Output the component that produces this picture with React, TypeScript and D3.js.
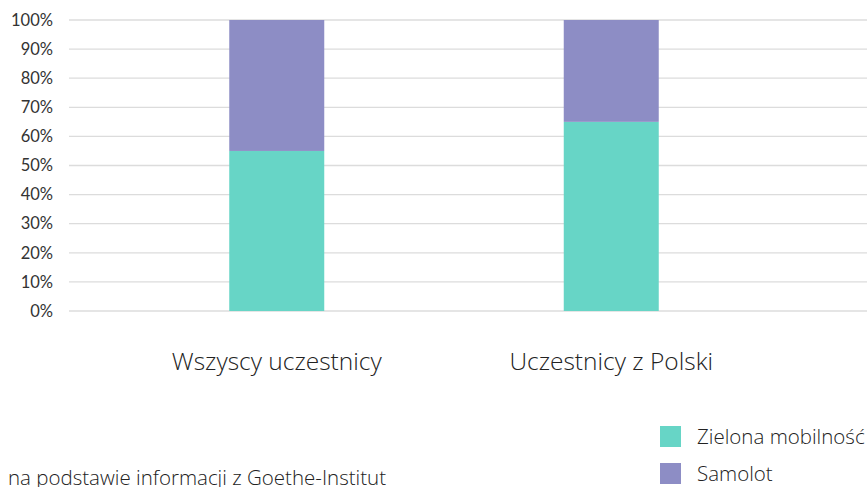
import React from "react";
import * as d3 from "d3";

const categories = ["Wszyscy uczestnicy", "Uczestnicy z Polski"];
const seriesNames = ["Zielona mobilność", "Samolot"];
const zielona = [55, 65];
const samolot = [45, 35];
const yTicks = [0, 10, 20, 30, 40, 50, 60, 70, 80, 90, 100];
const colors = ["#67D5C6", "#8D8DC5"];
const sourceText = "na podstawie informacji z Goethe-Institut";

export default function App() {
  const W = 867, H = 487;
  const y = d3.scaleLinear().domain([0, 100]).range([311, 20]);
  const x = d3.scaleBand<string>().domain(categories).range([109.5, 778.5]).paddingInner(0.716).paddingOuter(0.358);
  const stack = d3.stack<any>().keys(seriesNames);
  const rows = categories.map((c, i) => ({ cat: c, [seriesNames[0]]: zielona[i], [seriesNames[1]]: samolot[i] }));
  const layers = stack(rows);
  const font = "Lato, 'Open Sans', sans-serif";
  const font2 = "'Open Sans', sans-serif";
  return (
    <svg width={W} height={H} style={{ position: "absolute", left: 0, top: 0 }} fontFamily={font}>
      <rect width={W} height={H} fill="#fff" />
      {yTicks.map((t) => (
        <g key={t}>
          <line x1={69} x2={W} y1={y(t)} y2={y(t)} stroke="#dcdcdc" strokeWidth={1.3} />
          <text x={53} y={y(t)} dy="0.35em" textAnchor="end" fontSize={16.5} fill="#333">{t}%</text>
        </g>
      ))}
      {layers.map((layer, li) =>
        layer.map((d, i) => (
          <rect key={`${li}-${i}`} x={x(categories[i])} width={x.bandwidth()} y={y(d[1])} height={y(d[0]) - y(d[1])} fill={colors[li]} />
        ))
      )}
      {categories.map((c) => (
        <text key={c} x={(x(c) as number) + x.bandwidth() / 2} y={361} dy="0.35em" textAnchor="middle" fontSize={24.5} fontWeight={300} fontFamily={font2} fill="#222">{c}</text>
      ))}
      {seriesNames.map((s, i) => (
        <g key={s}>
          <rect x={660} y={426 + i * 37} width={21} height={21} fill={colors[i]} />
          <text x={697} y={437 + i * 37} dy="0.35em" fontSize={20.5} fontWeight={300} fontFamily={font2} fill="#222">{s}</text>
        </g>
      ))}
      <text x={8} y={485} fontSize={20.5} fontWeight={300} fontFamily={font2} fill="#222">{sourceText}</text>
    </svg>
  );
}
